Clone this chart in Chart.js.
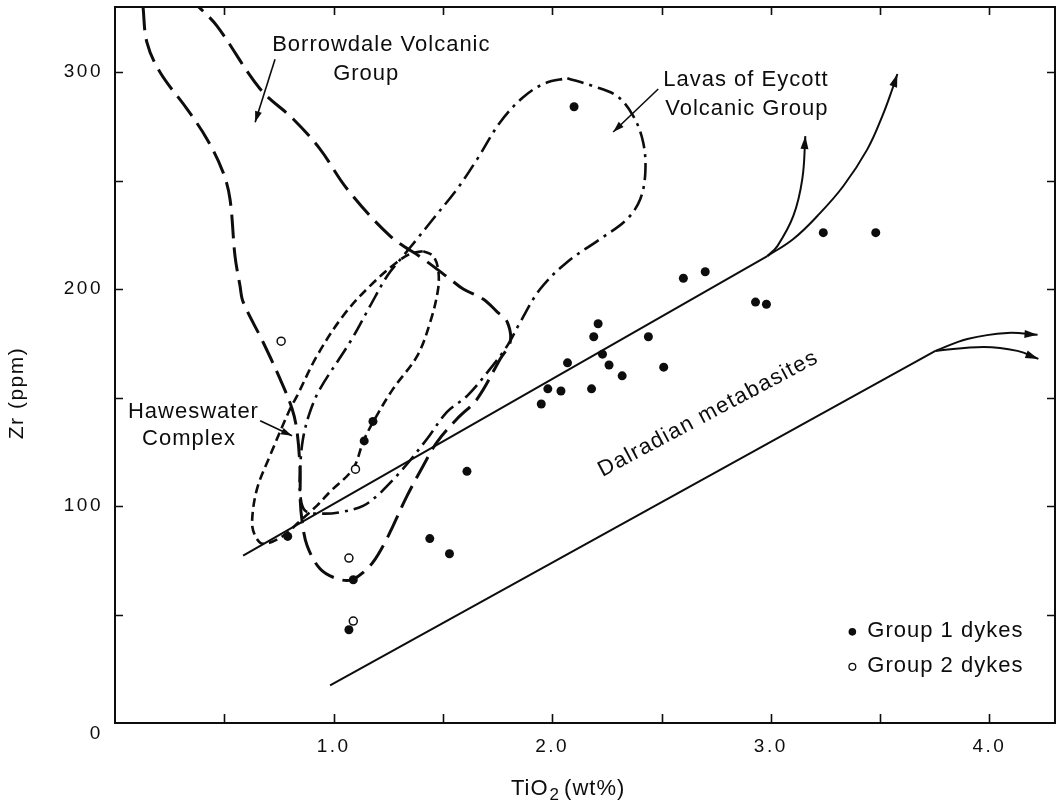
<!DOCTYPE html>
<html>
<head>
<meta charset="utf-8">
<script src="https://cdn.jsdelivr.net/npm/chart.js@4.4.1/dist/chart.umd.min.js"></script>
<style>
  html, body { margin: 0; padding: 0; background: #fff; }
</style>
</head>
<body>
<canvas id="zrChart" width="1057" height="802"></canvas>
<script>
// ---------------------------------------------------------------------------
// Zr vs TiO2 for the dyke suites, with the field outlines
// ---------------------------------------------------------------------------
const INK = "#0d0d0d";
const FONT = '"Liberation Sans", Arial, Helvetica, sans-serif';

// Dyke analyses
const group1TiO2 = [2.10, 3.24, 3.48, 2.60, 2.70, 2.93, 2.98, 2.21, 2.19, 2.44, 2.07, 2.23, 2.26, 2.32,
                    2.51, 1.98, 2.04, 2.18, 1.95, 1.61, 1.44, 1.53, 1.18, 1.14, 0.79, 1.09, 1.07];
const group1Zr   = [284, 226, 226, 205, 208, 194, 193, 184, 178, 178, 166, 170, 165, 160,
                    164, 154, 153, 154, 147, 116, 85, 78, 139, 130, 86, 66, 43];
const group2TiO2 = [0.76, 1.10, 1.07, 1.09];
const group2Zr   = [176, 117, 76, 47];

// Borrowdale Volcanic Group field (open at the top of the plot)
const borrowdaleTiO2 = [0.128, 0.146, 0.206, 0.330, 0.421, 0.494, 0.526, 0.549, 0.572, 0.586, 0.677, 0.755,
                        0.810, 0.833, 0.847, 0.847, 0.856, 0.879, 0.938, 1.016, 1.085, 1.167, 1.227, 1.272,
                        1.336, 1.410, 1.474, 1.565, 1.657, 1.762, 1.808, 1.794, 1.748, 1.684, 1.593, 1.533,
                        1.410, 1.259, 1.062, 0.938, 0.815, 0.664, 0.467, 0.380];
const borrowdaleZr   = [330.3, 313.7, 299.9, 282.9, 269.1, 253.9, 241.5, 215.2, 201.4, 194.1, 175.6, 158.6,
                        144.8, 134.2, 115.8, 103.4, 92.8, 81.7, 71.1, 66.5, 66.1, 72.5, 81.7, 90.9,
                        104.7, 118.6, 129.6, 140.2, 149.4, 167.8, 175.7, 184.9, 189.5, 195.4, 200.0, 204.6,
                        213.9, 224.4, 246.1, 264.5, 278.4, 292.2, 321.2, 330.4];

// Haweswater Complex field (closed loop)
const haweswaterTiO2 = [1.410, 1.455, 1.478, 1.478, 1.442, 1.382, 1.272, 1.181, 1.135, 1.089, 0.984, 0.924,
                        0.847, 0.764, 0.677, 0.641, 0.627, 0.650, 0.709, 0.801, 0.833, 0.924, 1.043, 1.167,
                        1.291, 1.350, 1.410];
const haweswaterZr   = [217.5, 215.2, 209.2, 200.0, 184.8, 169.1, 154.0, 138.8, 129.6, 117.2, 106.6, 100.2,
                        93.2, 85.9, 82.6, 86.3, 92.8, 108.0, 123.2, 144.8, 150.8, 169.2, 187.6, 201.5,
                        212.5, 216.2, 217.5];

// Lavas of Eycott Volcanic Group field (closed loop)
const eycottTiO2 = [2.069, 2.188, 2.297, 2.371, 2.416, 2.426, 2.403, 2.343, 2.220, 2.069, 1.945, 1.854,
                    1.794, 1.716, 1.611, 1.519, 1.428, 1.318, 1.245, 1.199, 1.135, 1.043, 0.952, 0.870,
                    0.847, 0.847, 0.860, 0.892, 0.938, 1.076, 1.167, 1.245, 1.318, 1.382, 1.455, 1.565,
                    1.657, 1.762, 1.867, 1.968, 2.069];
const eycottZr   = [297.2, 293.5, 288.9, 279.7, 267.7, 253.9, 241.5, 232.3, 223.1, 212.5, 200.0, 184.8,
                    173.8, 163.2, 150.8, 143.4, 131.0, 117.2, 109.3, 104.7, 100.1, 97.4, 96.5, 97.8,
                    105.7, 117.2, 131.0, 143.4, 154.0, 175.7, 192.2, 206.0, 215.2, 223.1, 232.3, 246.1,
                    259.9, 276.9, 288.4, 294.9, 297.2];

// Dalradian metabasite band: upper and lower limits, each splitting into two trends
const dalUpperTiO2  = [0.586, 2.984];
const dalUpperZr    = [77.1, 215.2];
const dalUpperATiO2 = [2.984, 3.030, 3.103, 3.144, 3.158];
const dalUpperAZr   = [215.2, 219.8, 233.7, 250.7, 270.5];
const dalUpperBTiO2 = [2.984, 3.103, 3.213, 3.332, 3.442, 3.510, 3.556, 3.579];
const dalUpperBZr   = [215.2, 223.1, 233.7, 247.5, 264.5, 279.7, 292.2, 299.1];
const dalLowerTiO2  = [0.984, 3.753];
const dalLowerZr    = [17.3, 171.5];
const dalLowerATiO2 = [3.753, 3.899, 4.082, 4.220];
const dalLowerAZr   = [171.5, 177.0, 179.8, 178.9];
const dalLowerBTiO2 = [3.753, 3.973, 4.128, 4.224];
const dalLowerBZr   = [171.5, 173.3, 171.5, 167.8];

// Label pointers (from label to field)
const borrowdalePtrTiO2 = [0.732, 0.641];
const borrowdalePtrZr   = [305.9, 276.9];
const eycottPtrTiO2     = [2.485, 2.279];
const eycottPtrZr       = [292.2, 272.4];
const haweswaterPtrTiO2 = [0.664, 0.810];
const haweswaterPtrZr   = [139.3, 132.4];

// Axis ticks
const tiTickStep = 0.5;
const zrTickStep = 50;

// Field labels, placed in data units (left edge, vertical middle)
const fieldLabels = [
    { text: "Borrowdale Volcanic", ti: 0.719, zr: 312.4 },
    { text: "Group",               ti: 0.998, zr: 299.1 },
    { text: "Lavas of Eycott",     ti: 2.508, zr: 296.3 },
    { text: "Volcanic Group",      ti: 2.517, zr: 283.2 },
    { text: "Haweswater",          ti: 0.059, zr: 143.4 },
    { text: "Complex",             ti: 0.124, zr: 131.0 },
];
const bandLabel = { text: "Dalradian metabasites", ti: 2.714, zr: 142.5, angle: -28 };

// ---------------------------------------------------------------------------
// Helpers
// ---------------------------------------------------------------------------
const zip = (xs, ys) => xs.map((x, i) => ({ x, y: ys[i] }));

function lineSet(label, xs, ys, extra) {
    return Object.assign({
        label,
        data: zip(xs, ys),
        showLine: true,
        borderColor: INK,
        borderWidth: 2,
        pointRadius: 0,
        tension: 0,
        fill: false,
    }, extra || {});
}

const ARROWED = new Set([
    "dalUpperA", "dalUpperB", "dalLowerA", "dalLowerB",
    "borrowdalePtr", "eycottPtr", "haweswaterPtr",
]);

function drawArrowhead(ctx, tip, from, len, half) {
    const ang = Math.atan2(tip.y - from.y, tip.x - from.x);
    ctx.beginPath();
    ctx.moveTo(tip.x, tip.y);
    ctx.lineTo(tip.x - len * Math.cos(ang) + half * Math.sin(ang), tip.y - len * Math.sin(ang) - half * Math.cos(ang));
    ctx.lineTo(tip.x - len * Math.cos(ang) - half * Math.sin(ang), tip.y - len * Math.sin(ang) + half * Math.cos(ang));
    ctx.closePath();
    ctx.fill();
}

// the scales must not push the plot area in for label overhang
function fixedBox(size, key) {
    return s => {
        s[key] = size;
        s.paddingTop = 0;
        s.paddingBottom = 0;
        s.paddingLeft = 0;
        s.paddingRight = 0;
    };
}

// ---------------------------------------------------------------------------
// Frame, inward ticks, arrowheads and text
// ---------------------------------------------------------------------------
const plotDecor = {
    id: "plotDecor",
    beforeDraw(chart) {
        // spaced-out tick numerals
        chart.ctx.letterSpacing = "2.5px";
    },
    beforeDatasetsDraw(chart) {
        const { ctx, chartArea: a, scales: { x, y } } = chart;
        ctx.letterSpacing = "0px";
        ctx.save();
        ctx.strokeStyle = INK;
        ctx.lineWidth = 2;
        ctx.strokeRect(a.left, a.top, a.right - a.left, a.bottom - a.top);

        ctx.beginPath();
        x.ticks.forEach(t => {
            if (t.value <= 0) return;
            const px = Math.round(x.getPixelForValue(t.value)) + 0.5;
            ctx.moveTo(px, a.bottom); ctx.lineTo(px, a.bottom - 9);
            ctx.moveTo(px, a.top);    ctx.lineTo(px, a.top + 8);
        });
        y.ticks.forEach(t => {
            if (t.value <= 0) return;
            const py = Math.round(y.getPixelForValue(t.value)) + 0.5;
            ctx.moveTo(a.left, py);  ctx.lineTo(a.left + 8, py);
            ctx.moveTo(a.right, py); ctx.lineTo(a.right - 8, py);
        });
        ctx.lineWidth = 1.6;
        ctx.stroke();
        ctx.restore();
    },
    afterDatasetsDraw(chart) {
        const ctx = chart.ctx;
        ctx.save();
        ctx.fillStyle = INK;
        chart.data.datasets.forEach((ds, i) => {
            if (!ARROWED.has(ds.label)) return;
            const pts = chart.getDatasetMeta(i).data;
            const tip = pts[pts.length - 1];
            let from = pts[pts.length - 2];
            if (tip.cp1x !== undefined && Math.hypot(tip.cp1x - tip.x, tip.cp1y - tip.y) > 1) {
                from = { x: tip.cp1x, y: tip.cp1y };
            }
            const isPtr = ds.label.endsWith("Ptr");
            drawArrowhead(ctx, tip, from, isPtr ? 11 : 13, isPtr ? 3.5 : 4);
        });
        ctx.restore();
    },
    afterDraw(chart) {
        const { ctx, chartArea: a, scales: { x, y } } = chart;
        ctx.save();
        ctx.fillStyle = INK;
        ctx.strokeStyle = INK;
        ctx.textBaseline = "middle";

        // field labels
        ctx.font = `22px ${FONT}`;
        ctx.letterSpacing = "1px";
        ctx.textAlign = "left";
        fieldLabels.forEach(l => {
            ctx.fillText(l.text, x.getPixelForValue(l.ti), y.getPixelForValue(l.zr));
        });

        // label along the metabasite band
        ctx.save();
        ctx.letterSpacing = "1.3px";
        ctx.translate(x.getPixelForValue(bandLabel.ti), y.getPixelForValue(bandLabel.zr));
        ctx.rotate(bandLabel.angle * Math.PI / 180);
        ctx.textAlign = "center";
        ctx.fillText(bandLabel.text, 0, 0);
        ctx.restore();

        // key
        const kx = x.getPixelForValue(3.373);
        const ky = y.getPixelForValue(42);
        ctx.letterSpacing = "1px";
        ctx.textAlign = "left";
        ctx.beginPath();
        ctx.arc(kx, ky, 3.8, 0, Math.PI * 2);
        ctx.fill();
        ctx.fillText("Group 1 dykes", kx + 15, ky - 1);
        ctx.beginPath();
        ctx.arc(kx, ky + 35, 3.4, 0, Math.PI * 2);
        ctx.lineWidth = 1.3;
        ctx.stroke();
        ctx.fillText("Group 2 dykes", kx + 15, ky + 34);

        // shared origin numeral
        ctx.font = `19px ${FONT}`;
        ctx.letterSpacing = "0px";
        ctx.textAlign = "center";
        ctx.fillText("0", a.left - 20, a.bottom + 11);

        // x title with subscript
        ctx.font = `22px ${FONT}`;
        ctx.letterSpacing = "1px";
        ctx.textBaseline = "alphabetic";
        ctx.textAlign = "left";
        let tx = 511;
        const base = 795;
        ctx.fillText("TiO", tx, base);
        tx += ctx.measureText("TiO").width + 1;
        ctx.font = `17px ${FONT}`;
        ctx.fillText("2", tx, base + 5);
        tx += ctx.measureText("2").width + 4;
        ctx.font = `22px ${FONT}`;
        ctx.fillText("(wt%)", tx, base);

        // y title
        ctx.save();
        ctx.translate(17, 393);
        ctx.rotate(-Math.PI / 2);
        ctx.font = `21px ${FONT}`;
        ctx.letterSpacing = "1.5px";
        ctx.textAlign = "center";
        ctx.textBaseline = "middle";
        ctx.fillText("Zr (ppm)", 0, 0);
        ctx.restore();

        ctx.restore();
    },
};

// ---------------------------------------------------------------------------
// Chart
// ---------------------------------------------------------------------------
const datasets = [
    {
        label: "Group 1 dykes",
        data: zip(group1TiO2, group1Zr),
        pointRadius: 4.5,
        pointBackgroundColor: INK,
        pointBorderWidth: 0,
        showLine: false,
    },
    {
        label: "Group 2 dykes",
        data: zip(group2TiO2, group2Zr),
        pointRadius: 4,
        pointBackgroundColor: "#fff",
        pointBorderColor: INK,
        pointBorderWidth: 1.5,
        showLine: false,
    },
    lineSet("borrowdale", borrowdaleTiO2, borrowdaleZr, { borderWidth: 3, borderDash: [24, 9], tension: 0.35 }),
    lineSet("haweswater", haweswaterTiO2, haweswaterZr, { borderWidth: 2.6, borderDash: [9, 5], tension: 0.35 }),
    lineSet("eycott", eycottTiO2, eycottZr, { borderWidth: 2.6, borderDash: [17, 6, 3, 6], tension: 0.35 }),
    lineSet("dalUpper", dalUpperTiO2, dalUpperZr),
    lineSet("dalUpperA", dalUpperATiO2, dalUpperAZr, { tension: 0.4 }),
    lineSet("dalUpperB", dalUpperBTiO2, dalUpperBZr, { tension: 0.4 }),
    lineSet("dalLower", dalLowerTiO2, dalLowerZr),
    lineSet("dalLowerA", dalLowerATiO2, dalLowerAZr, { tension: 0.4 }),
    lineSet("dalLowerB", dalLowerBTiO2, dalLowerBZr, { tension: 0.4 }),
    lineSet("borrowdalePtr", borrowdalePtrTiO2, borrowdalePtrZr, { borderWidth: 1.6 }),
    lineSet("eycottPtr", eycottPtrTiO2, eycottPtrZr, { borderWidth: 1.6 }),
    lineSet("haweswaterPtr", haweswaterPtrTiO2, haweswaterPtrZr, { borderWidth: 1.6 }),
];

new Chart(document.getElementById("zrChart"), {
    type: "scatter",
    data: { datasets },
    options: {
        responsive: false,
        animation: false,
        devicePixelRatio: 1,
        layout: { autoPadding: false, padding: { top: 7, right: 2, left: 0, bottom: 0 } },
        plugins: {
            legend: { display: false },
            tooltip: { enabled: false },
        },
        scales: {
            x: {
                type: "linear",
                min: 0,
                max: 4.3,
                grid: { display: false },
                border: { display: false },
                ticks: {
                    stepSize: tiTickStep,
                    includeBounds: false,
                    autoSkip: false,
                    maxRotation: 0,
                    padding: 4,
                    color: INK,
                    font: { family: FONT, size: 19 },
                    callback: v => (v > 0 && Number.isInteger(v)) ? v.toFixed(1) : "",
                },
                afterFit: fixedBox(79, "height"),
            },
            y: {
                type: "linear",
                min: 0,
                max: 330,
                grid: { display: false },
                border: { display: false },
                ticks: {
                    stepSize: zrTickStep,
                    includeBounds: false,
                    autoSkip: false,
                    padding: 4,
                    color: INK,
                    font: { family: FONT, size: 19 },
                    callback: v => (v > 0 && v % 100 === 0) ? String(v) : "",
                },
                afterFit: fixedBox(115, "width"),
            },
        },
    },
    plugins: [plotDecor],
});
</script>
</body>
</html>
